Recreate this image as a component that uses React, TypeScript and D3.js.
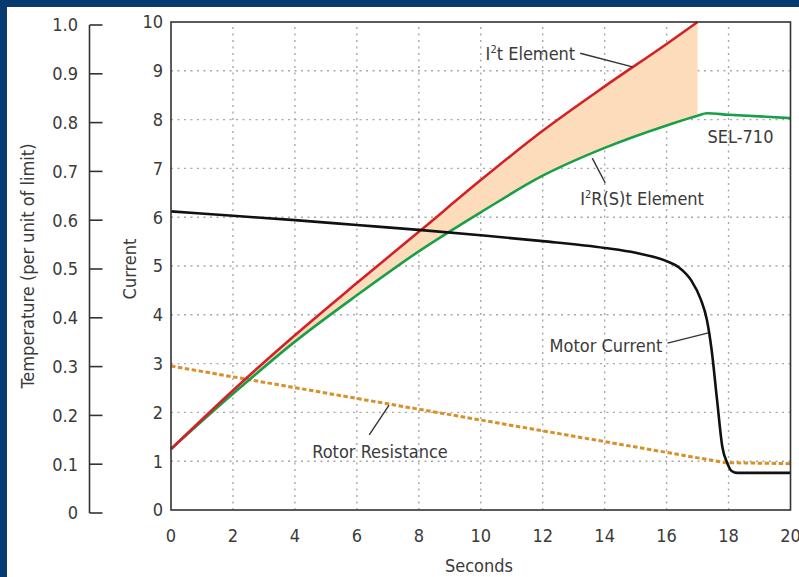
import React from "react";
import * as d3 from "d3";

const thermalSeconds = [0, 2, 4, 6, 8, 10, 12, 14, 16, 17];
const i2tElement = [1.25, 2.45, 3.58, 4.65, 5.7, 6.76, 7.77, 8.68, 9.55, 10];
const i2rstElement = [1.25, 2.38, 3.45, 4.4, 5.3, 6.1, 6.85, 7.42, 7.88, 8.08];
const sel710TailSeconds = [17.3, 18, 20];
const sel710TailValues = [8.13, 8.1, 8.03];

const motorSeconds = [0, 2, 4, 6, 8, 10, 12, 14, 15, 16, 16.4, 16.8, 17.1, 17.3, 17.45, 17.63, 17.8, 17.96, 18.1, 18.28, 20];
const motorCurrent = [6.12, 6.03, 5.94, 5.84, 5.74, 5.63, 5.51, 5.37, 5.27, 5.1, 4.97, 4.7, 4.32, 3.9, 3.3, 2.25, 1.29, 0.96, 0.8, 0.76, 0.76];

const rotorSeconds = [0, 17.9, 20];
const rotorResistance = [2.95, 0.97, 0.95];

const currentTicks = [0, 1, 2, 3, 4, 5, 6, 7, 8, 9, 10];
const secondTicks = [0, 2, 4, 6, 8, 10, 12, 14, 16, 18, 20];
const temperatureTicks = [0, 0.1, 0.2, 0.3, 0.4, 0.5, 0.6, 0.7, 0.8, 0.9, 1.0];

const FONT = "'Liberation Sans Narrow', 'DejaVu Sans Condensed', 'Roboto', sans-serif";
const TXT = "#3a3a3a";

export default function App() {
  const W = 799, H = 577;
  const x = d3.scaleLinear().domain([0, 20]).range([171, 790.5]);
  const y = d3.scaleLinear().domain([0, 10]).range([510, 22]);
  const t = d3.scaleLinear().domain([0, 1]).range([513, 25]);
  const tAxisX = 89.5;

  const pairs = (xs: number[], ys: number[]) => xs.map((v, i) => [v, ys[i]] as [number, number]);
  const line = d3.line<[number, number]>().x(d => x(d[0])).y(d => y(d[1])).curve(d3.curveMonotoneX);
  const straight = d3.line<[number, number]>().x(d => x(d[0])).y(d => y(d[1])).curve(d3.curveLinear);

  const redPts = pairs(thermalSeconds, i2tElement);
  const greenPts = pairs(thermalSeconds, i2rstElement).concat(pairs(sel710TailSeconds, sel710TailValues));
  const blackPts = pairs(motorSeconds, motorCurrent);
  const orangePts = pairs(rotorSeconds, rotorResistance);

  const area = d3.area<number>()
    .x(i => x(thermalSeconds[i]))
    .y0(i => y(i2rstElement[i]))
    .y1(i => y(i2tElement[i]))
    .curve(d3.curveMonotoneX);
  const areaD = area(thermalSeconds.map((_, i) => i)) || "";

  const gridColor = "#a8a8a8";

  return (
    <svg width={W} height={H} style={{ position: "absolute", left: 0, top: 0, fontFamily: FONT }}>
      <rect x={0} y={0} width={W} height={H} fill="#073b6f" />
      <rect x={7} y={7} width={W - 7} height={H - 7} fill="#ffffff" />

      {/* grid */}
      {currentTicks.filter(v => v > 0 && v < 10).map(v => (
        <line key={"gy" + v} x1={x(0)} x2={x(20)} y1={y(v)} y2={y(v)} stroke={gridColor} strokeWidth={1.4} strokeDasharray="2,4.5" />
      ))}
      {secondTicks.filter(v => v > 0 && v < 20).map(v => (
        <line key={"gx" + v} x1={x(v)} x2={x(v)} y1={y(0)} y2={y(10)} stroke={gridColor} strokeWidth={1.4} strokeDasharray="2,4.5" />
      ))}

      {/* fill between elements */}
      <path d={areaD} fill="#fddcbb" />

      {/* curves */}
      <path d={straight(orangePts) || ""} fill="none" stroke="#d8902c" strokeWidth={3} strokeDasharray="4.5,2.5" />
      <path d={line(greenPts) || ""} fill="none" stroke="#18a048" strokeWidth={2.6} />
      <path d={line(redPts) || ""} fill="none" stroke="#d42027" strokeWidth={2.6} />
      <path d={line(blackPts) || ""} fill="none" stroke="#111111" strokeWidth={2.6} />

      {/* frame */}
      <rect x={x(0)} y={y(10)} width={x(20) - x(0)} height={y(0) - y(10)} fill="none" stroke="#333" strokeWidth={1.6} />

      {/* current axis labels */}
      {currentTicks.map(v => (
        <text key={"cy" + v} x={163} y={y(v)} dy="0.36em" textAnchor="end" fontSize={18} fill={TXT}>{v}</text>
      ))}
      {secondTicks.map(v => (
        <text key={"sx" + v} x={x(v)} y={542} textAnchor="middle" fontSize={18} fill={TXT}>{v}</text>
      ))}

      {/* temperature axis */}
      <line x1={tAxisX} x2={tAxisX} y1={t(0)} y2={t(1)} stroke="#333" strokeWidth={1.6} />
      {temperatureTicks.map(v => (
        <g key={"tt" + v}>
          <line x1={tAxisX} x2={tAxisX + 13} y1={t(v)} y2={t(v)} stroke="#333" strokeWidth={1.6} />
          <text x={78} y={t(v)} dy="0.36em" textAnchor="end" fontSize={18} fill={TXT}>{v === 0 ? "0" : v.toFixed(1)}</text>
        </g>
      ))}

      {/* axis titles */}
      <text transform={`translate(34,266) rotate(-90)`} textAnchor="middle" fontSize={18} fill={TXT}>Temperature (per unit of limit)</text>
      <text transform={`translate(136,269) rotate(-90)`} textAnchor="middle" fontSize={18} fill={TXT}>Current</text>
      <text x={479} y={572} textAnchor="middle" fontSize={18} fill={TXT}>Seconds</text>

      {/* annotations */}
      <text x={x(13.05)} y={y(9.22)} textAnchor="end" fontSize={18} fill={TXT}>
        I<tspan fontSize={11} dy={-7}>2</tspan><tspan dy={7}>t Element</tspan>
      </text>
      <line x1={x(13.21)} y1={y(9.36)} x2={x(14.9)} y2={y(9.08)} stroke="#333" strokeWidth={1.4} />

      <text x={x(17.32)} y={y(7.52)} fontSize={18} fill={TXT}>SEL-710</text>

      <text x={x(13.21)} y={y(6.25)} fontSize={18} fill={TXT}>
        I<tspan fontSize={11} dy={-7}>2</tspan><tspan dy={7}>R(S)t Element</tspan>
      </text>
      <line x1={x(14.02)} y1={y(6.7)} x2={x(13.6)} y2={y(7.21)} stroke="#333" strokeWidth={1.4} />

      <text x={x(15.86)} y={y(3.24)} textAnchor="end" fontSize={18} fill={TXT}>Motor Current</text>
      <line x1={x(16.03)} y1={y(3.42)} x2={x(17.35)} y2={y(3.63)} stroke="#333" strokeWidth={1.4} />

      <text x={x(4.56)} y={y(1.07)} fontSize={18} fill={TXT}>Rotor Resistance</text>
      <line x1={x(6.4)} y1={y(1.54)} x2={x(7.04)} y2={y(2.15)} stroke="#333" strokeWidth={1.4} />
    </svg>
  );
}
